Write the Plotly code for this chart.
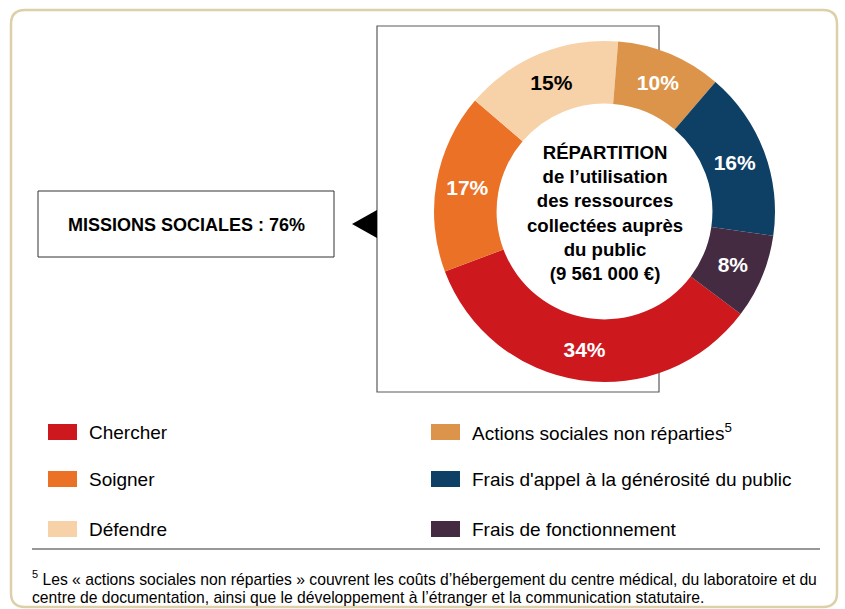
import plotly.graph_objects as go

# ---- data ----
categories = ["Chercher", "Soigner", "Défendre",
              "Actions sociales non réparties",
              "Frais d'appel à la générosité du public",
              "Frais de fonctionnement"]
values = [34, 17, 15, 10, 16, 8]
colors = ["#CD181E", "#EB7126", "#F7D2A8", "#DB9449", "#0E4066", "#442B41"]
text_colors = ["white", "white", "black", "white", "white", "white"]
legend_labels = ["Chercher", "Soigner", "Défendre",
                 "Actions sociales non réparties<sup>5</sup>",
                 "Frais d'appel à la générosité du public",
                 "Frais de fonctionnement"]
center_title = ["RÉPARTITION", "de l’utilisation", "des ressources",
                "collectées auprès", "du public", "(9 561 000 €)"]
missions_label = "MISSIONS SOCIALES : 76%"
footnote_lines = [
    "<sup>5</sup> Les « actions sociales non réparties » couvrent les coûts d’hébergement du centre médical, du laboratoire et du",
    "centre de documentation, ainsi que le développement à l’étranger et la communication statutaire.",
]

W, H = 845, 609
SANS = "Liberation Sans, Arial, sans-serif"

# pie placement (pixels)
px0, px1, py0, py1 = 434, 775, 41, 382

fig = go.Figure()
fig.add_trace(go.Pie(
    labels=categories, values=values, sort=False,
    direction="clockwise", rotation=127, hole=0.633,
    marker=dict(colors=colors, line=dict(width=0)),
    texttemplate="%{value}%", textposition="inside",
    insidetextorientation="horizontal",
    textfont=dict(family=SANS, size=21, color=text_colors, weight="bold"),
    domain=dict(x=[px0 / W, px1 / W], y=[1 - py1 / H, 1 - py0 / H]),
    showlegend=False, hoverinfo="label+percent",
))

shapes = []
# outer rounded frame
r = 14
fx0, fy0, fx1, fy1 = 11, 10, 837, 607
shapes.append(dict(
    type="path", xref="x", yref="y",
    path=(f"M {fx0+r},{fy0} L {fx1-r},{fy0} Q {fx1},{fy0} {fx1},{fy0+r} "
          f"L {fx1},{fy1-r} Q {fx1},{fy1} {fx1-r},{fy1} L {fx0+r},{fy1} "
          f"Q {fx0},{fy1} {fx0},{fy1-r} L {fx0},{fy0+r} Q {fx0},{fy0} {fx0+r},{fy0} Z"),
    line=dict(color="#DCD0A8", width=2.5), layer="below"))
# rectangle around the pie
shapes.append(dict(type="rect", xref="x", yref="y", x0=377, y0=26, x1=659, y1=392,
                   line=dict(color="#5a5a5a", width=1.2), layer="below"))
# white disc under the pie (hides the rectangle inside the donut)
shapes.append(dict(type="circle", xref="x", yref="y", x0=px0, y0=py0, x1=px1, y1=py1,
                   fillcolor="white", line=dict(width=0), layer="below"))
# arrow
shapes.append(dict(type="path", xref="x", yref="y",
                   path="M 352,224 L 377,210 L 377,238 Z",
                   fillcolor="black", line=dict(width=0), layer="below"))
# missions box
shapes.append(dict(type="rect", xref="x", yref="y", x0=38, y0=191, x1=334, y1=257,
                   line=dict(color="#333333", width=1), layer="below"))
# footnote rule
shapes.append(dict(type="line", xref="x", yref="y", x0=32, y0=549, x1=820, y1=549,
                   line=dict(color="#333333", width=1.2), layer="below"))

annotations = []
# center title
annotations.append(dict(
    x=(px0 + px1) / 2, y=(py0 + py1) / 2 + 1.5, xref="x", yref="y",
    text="<br>".join(center_title), showarrow=False, align="center",
    font=dict(family=SANS, size=18.6, color="black", weight="bold"),
    xanchor="center", yanchor="middle"))
# missions label
annotations.append(dict(
    x=186, y=225, xref="x", yref="y", text=missions_label, showarrow=False,
    font=dict(family=SANS, size=18, color="black", weight="bold"),
    xanchor="center", yanchor="middle"))

# custom legend (two columns)
row_y = [432, 479, 529]
col_x = [48, 431]
for i, (lab, col) in enumerate(zip(legend_labels, colors)):
    c, rrow = divmod(i, 3)
    sx = col_x[c]
    sy = row_y[rrow]
    shapes.append(dict(type="rect", xref="x", yref="y", x0=sx, x1=sx + 29,
                       y0=sy - 8, y1=sy + 8, fillcolor=col, line=dict(width=0)))
    annotations.append(dict(
        x=sx + 39, y=sy, xref="x", yref="y", text=lab, showarrow=False,
        xanchor="left", yanchor="middle",
        font=dict(family=SANS, size=19, color="black")))

# footnote
for j, line in enumerate(footnote_lines):
    annotations.append(dict(
        x=30, y=578 + 19 * j, xref="x", yref="y", text=line, showarrow=False,
        xanchor="left", yanchor="middle",
        font=dict(family=SANS, size=15.7, color="black")))

fig.update_layout(
    width=W, height=H, margin=dict(l=0, r=0, t=0, b=0),
    paper_bgcolor="white", plot_bgcolor="white",
    xaxis=dict(range=[0, W], visible=False, fixedrange=True, domain=[0, 1]),
    yaxis=dict(range=[H, 0], visible=False, fixedrange=True, domain=[0, 1]),
    shapes=shapes, annotations=annotations, showlegend=False,
)

fig.write_html("out.html",
               config={"displayModeBar": False},
               post_script="document.body.style.margin='0';document.body.style.overflow='hidden';")
